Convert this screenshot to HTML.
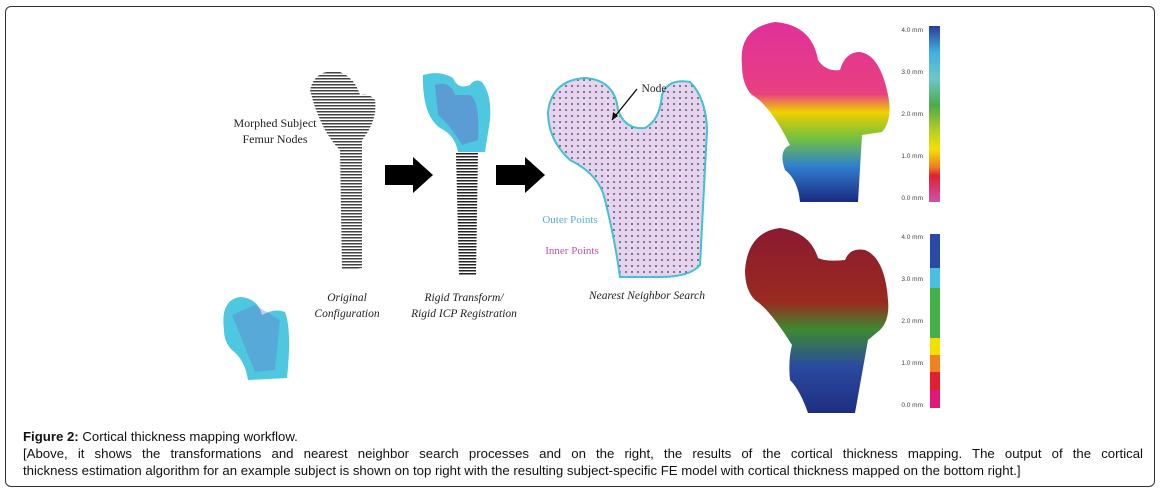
<!DOCTYPE html>
<html><head><meta charset="utf-8"><style>
body{margin:0;background:#fff;width:1167px;height:496px;overflow:hidden;position:relative;font-family:"Liberation Sans",sans-serif}
.box{position:absolute;left:5px;top:6px;width:1148px;height:479px;border:1px solid #333;border-radius:6px}
.cap{position:absolute;left:23px;top:429px;width:1120px;font-size:13.2px;line-height:16.8px;color:#111}
.j{text-align:justify;text-align-last:justify;white-space:nowrap}
svg{position:absolute;left:0;top:0}
</style></head><body>
<div class="box"></div>
<svg width="1167" height="496" viewBox="0 0 1167 496">
<defs>
<pattern id="hl" width="4" height="3" patternUnits="userSpaceOnUse"><rect width="4" height="3" fill="#fff"/><rect width="4" height="1.5" fill="#222"/></pattern>
<pattern id="dots" width="6" height="6" patternUnits="userSpaceOnUse"><rect width="6" height="6" fill="#e6d4ee"/><circle cx="2" cy="2" r="0.9" fill="#334"/></pattern>
<linearGradient id="cb1" x1="0" y1="0" x2="0" y2="1"><stop offset="0" stop-color="#2a3e9a"/><stop offset=".15" stop-color="#3fb0e0"/><stop offset=".3" stop-color="#6cc8c8"/><stop offset=".45" stop-color="#4caa48"/><stop offset=".6" stop-color="#b8d020"/><stop offset=".7" stop-color="#f4e000"/><stop offset=".8" stop-color="#f08020"/><stop offset=".85" stop-color="#e02030"/><stop offset="1" stop-color="#d050b0"/></linearGradient>
<linearGradient id="f1" x1="0" y1="0" x2="0" y2="1"><stop offset="0" stop-color="#e0309a"/><stop offset=".4" stop-color="#e84080"/><stop offset=".5" stop-color="#f0d000"/><stop offset=".65" stop-color="#70c040"/><stop offset=".8" stop-color="#3080d0"/><stop offset="1" stop-color="#1a2a80"/></linearGradient>
<linearGradient id="f2" x1="0" y1="0" x2="0" y2="1"><stop offset="0" stop-color="#8a1a30"/><stop offset=".4" stop-color="#9a2a20"/><stop offset=".55" stop-color="#3c8a30"/><stop offset=".75" stop-color="#2a4aa0"/><stop offset="1" stop-color="#1e2e80"/></linearGradient>
</defs>
<path d="M310 90 Q315 68 340 72 Q355 78 360 95 Q368 92 375 100 Q378 120 362 140 L362 268 L342 270 L340 150 Q320 130 310 90Z" fill="url(#hl)" opacity=".85"/>
<polygon points="385,165 413,165 413,157 433,175 413,193 413,185 385,185" fill="#000"/>
<polygon points="496,165 525,165 525,157 545,175 525,193 525,185 496,185" fill="#000"/>
<path d="M423 75 Q440 70 453 78 Q458 90 470 85 Q475 78 482 82 Q492 95 490 120 L485 152 L458 152 Q455 135 440 128 Q422 115 423 75Z" fill="#4dc8e0"/>
<path d="M435 85 Q450 80 455 95 L470 95 Q480 100 478 140 L462 145 Q450 125 438 115Z" fill="#6a70c8" opacity=".5"/>
<path d="M456 153 L478 153 L476 275 L459 275Z" fill="url(#hl)"/>
<path d="M548 112 Q552 80 585 78 Q615 80 618 110 Q625 130 645 128 Q660 120 662 95 Q668 78 690 82 Q706 98 707 130 L700 265 Q690 277 660 277 L620 277 Q615 240 605 200 Q600 175 570 160 Q548 140 548 112Z" fill="url(#dots)" stroke="#44c0d0" stroke-width="2"/>
<line x1="637" y1="89" x2="612" y2="120" stroke="#000" stroke-width="1.2"/>
<polygon points="612,120 613,112 618,116" fill="#000"/>
<path d="M224 330 Q220 300 240 297 Q258 298 262 315 Q275 308 285 312 Q292 330 287 378 L248 380 Q245 360 232 350 Q224 342 224 330Z" fill="#4dc8e0"/>
<path d="M232 315 L255 305 L280 320 L275 370 L255 372 Z" fill="#6a70c8" opacity=".35"/>
<path d="M742 65 Q738 28 775 22 Q812 25 818 60 Q826 72 840 70 Q845 52 860 52 Q880 55 888 95 Q893 120 882 132 L862 135 L858 202 L800 202 Q798 180 785 170 Q778 150 790 145 Q770 105 752 95 Q742 85 742 65Z" fill="url(#f1)"/>
<rect x="929" y="26" width="11" height="176" fill="url(#cb1)"/>
<path d="M745 270 Q748 232 780 228 Q810 232 818 258 Q826 262 845 260 Q850 247 865 250 Q885 258 888 300 Q890 320 880 330 L868 340 L855 413 L808 413 Q800 390 790 380 Q788 360 792 345 Q770 310 755 300 Q745 290 745 270Z" fill="url(#f2)"/>
<g>
<rect x="930" y="234" width="10" height="34" fill="#2a4aa8"/>
<rect x="930" y="268" width="10" height="20" fill="#4ac0e0"/>
<rect x="930" y="288" width="10" height="50" fill="#44b048"/>
<rect x="930" y="338" width="10" height="17" fill="#f0e000"/>
<rect x="930" y="355" width="10" height="17" fill="#f08020"/>
<rect x="930" y="372" width="10" height="18" fill="#e02030"/>
<rect x="930" y="390" width="10" height="18" fill="#e01878"/>
</g>
<g font-family="Liberation Sans,sans-serif" font-size="6.5" fill="#444" text-anchor="end">
<text x="923" y="32">4.0 mm</text><text x="923" y="74">3.0 mm</text><text x="923" y="116">2.0 mm</text><text x="923" y="158">1.0 mm</text><text x="923" y="200">0.0 mm</text>
<text x="923" y="239">4.0 mm</text><text x="923" y="281">3.0 mm</text><text x="923" y="323">2.0 mm</text><text x="923" y="365">1.0 mm</text><text x="923" y="407">0.0 mm</text>
</g>
<g font-family="Liberation Serif,serif" font-size="12" fill="#222" text-anchor="middle">
<text x="275" y="127">Morphed Subject</text><text x="275" y="143">Femur Nodes</text>
<text x="654" y="92" font-size="11.5">Node</text>
<text x="570" y="223" font-size="11" fill="#5ab0c8">Outer Points</text>
<text x="572" y="254" font-size="11" fill="#c050b0">Inner Points</text>
<g font-style="italic" font-size="11.5"><text x="347" y="301">Original</text><text x="347" y="317">Configuration</text>
<text x="464" y="301">Rigid Transform/</text><text x="464" y="317">Rigid ICP Registration</text>
<text x="647" y="299">Nearest Neighbor Search</text></g>
</g>
</svg>
<div class="cap"><div><b>Figure 2:</b> Cortical thickness mapping workflow.</div><div class="j">[Above, it shows the transformations and nearest neighbor search processes and on the right, the results of the cortical thickness mapping. The output of the cortical</div><div>thickness estimation algorithm for an example subject is shown on top right with the resulting subject-specific FE model with cortical thickness mapped on the bottom right.]</div></div>
</body></html>
